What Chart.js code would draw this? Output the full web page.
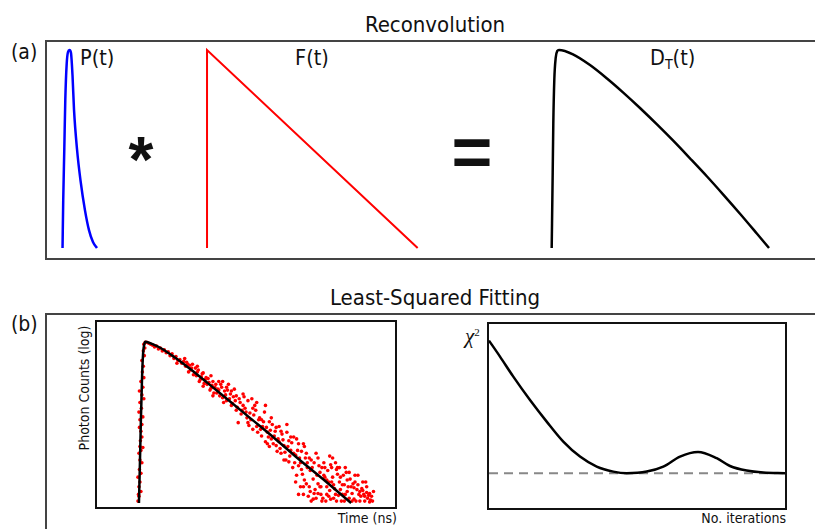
<!DOCTYPE html>
<html>
<head>
<meta charset="utf-8">
<title>Reconvolution and least-squared fitting</title>
<script src="https://cdn.jsdelivr.net/npm/chart.js@4.4.1/dist/chart.umd.min.js"></script>
<style>
  html, body { margin: 0; padding: 0; background: #fff; }
  body {
    width: 815px; height: 529px; position: relative; overflow: hidden;
    font-family: "DejaVu Sans Condensed", "DejaVu Sans", sans-serif; color: #111;
  }
  .txt { position: absolute; white-space: nowrap; line-height: 1; }
  .frame { position: absolute; box-sizing: border-box; }
  canvas { position: absolute; }
</style>
</head>
<body>

<!-- outer panel frames, both run off the right edge -->
<div class="frame" style="left:45px;top:40px;width:790px;height:220px;border:2px solid #444;"></div>
<div class="frame" style="left:45px;top:313px;width:790px;height:260px;border:2px solid #444;"></div>

<div class="txt" style="left:435px;top:14px;font-size:22px;transform:translateX(-50%);">Reconvolution</div>
<div class="txt" style="left:11px;top:42px;font-size:21px;">(a)</div>
<div class="txt" style="left:80px;top:47px;font-size:21.5px;">P(t)</div>
<div class="txt" style="left:295px;top:47px;font-size:21.5px;">F(t)</div>
<div class="txt" style="left:650px;top:47px;font-size:21.5px;">D<sub style="font-size:14px;vertical-align:-4px;">T</sub>(t)</div>
<div class="txt" style="left:141px;top:147px;font-family:'Liberation Sans';font-weight:bold;font-size:64px;transform:translate(-50%,-30%);">*</div>
<div class="txt" style="left:472px;top:152px;font-family:'Liberation Sans';font-weight:bold;font-size:70px;transform:translate(-50%,-50%);">=</div>

<div class="txt" style="left:435px;top:287px;font-size:22px;transform:translateX(-50%);">Least-Squared Fitting</div>
<div class="txt" style="left:11px;top:314px;font-size:21px;">(b)</div>

<!-- decay fit box -->
<div class="frame" style="left:95px;top:320px;width:302px;height:189px;border:2px solid #111;"></div>
<div class="txt" style="left:84px;top:388px;font-size:14px;transform:translate(-50%,-50%) rotate(-90deg);">Photon Counts (log)</div>
<div class="txt" style="left:397px;top:511px;font-size:14px;transform:translateX(-100%);">Time (ns)</div>

<!-- chi-square box -->
<div class="frame" style="left:487px;top:322px;width:300px;height:188px;border:2px solid #111;"></div>
<div class="txt" style="left:465px;top:326px;font-family:'Liberation Serif';font-style:italic;font-size:21px;">&chi;<sup style="font-size:11px;vertical-align:7px;font-style:normal;">2</sup></div>
<div class="txt" style="left:786px;top:511px;font-size:14px;transform:translateX(-100%);">No. iterations</div>

<canvas id="reconv" width="769" height="217" style="left:46px;top:41px;"></canvas>
<canvas id="fit" width="298" height="185" style="left:97px;top:322px;"></canvas>
<canvas id="chi" width="296" height="184" style="left:489px;top:324px;"></canvas>

<script>
// ---- panel (a): pulse P(t), ideal decay F(t), convolved decay D_T(t) ----
// x: time (arb.), y: normalised intensity
const pulsePoints = [
  [2.15, 0], [2.24, 0.24], [2.38, 0.5], [2.51, 0.75], [2.69, 0.93], [2.86, 0.99],
  [3.06, 1.0], [3.25, 0.985], [3.45, 0.87], [3.64, 0.7], [4.03, 0.5], [4.49, 0.34],
  [5.07, 0.19], [5.59, 0.09], [6.11, 0.03], [6.63, 0]
];
const decayPoints = [[20.94, 0], [20.94, 1], [48.33, 0]];
const convolvedPoints = [
  [65.76, 0], [65.89, 0.38], [65.97, 0.63], [66.1, 0.85], [66.28, 0.96], [66.49, 0.995],
  [66.71, 1.0], [68.53, 0.978], [70.74, 0.924], [72.95, 0.856], [75.03, 0.786],
  [77.24, 0.707], [79.45, 0.624], [81.53, 0.543], [83.74, 0.453], [85.96, 0.361],
  [88.04, 0.271], [90.25, 0.173], [92.46, 0.072], [94.02, 0]
];

// ---- panel (b) left: measured photon counts and fitted curve ----
// x: time (ns), y: ln(counts)
const fitPoints = [
  [3.9, 0], [4.0, 2.1], [4.1, 4.35], [4.22, 6.6], [4.33, 7.85], [4.45, 8.3], [4.57, 8.43],
  [5.3, 8.3], [6.3, 8.05], [7.6, 7.6], [9.3, 6.95], [11.0, 6.25], [12.8, 5.5],
  [15.3, 4.45], [17.8, 3.4], [20.3, 2.3], [22.8, 1.25], [25.7, 0]
];
const photonPoints = [
  [3.8,0.1],[3.85,0.45],[3.9,0.85],[3.8,1.35],[4.0,1.1],[3.95,1.75],[4.1,1.55],[4.0,2.25],
  [4.2,2.1],[3.9,2.6],[4.1,2.75],[4.3,2.9],[4.05,3.25],[4.2,3.45],[4.1,3.75],[3.95,3.95],
  [4.2,4.1],[4.0,4.35],[4.3,4.5],[3.9,4.75],[4.15,4.95],[4.0,5.25],[4.4,5.45],[4.2,5.65],
  [3.95,5.85],[4.3,6.05],[4.1,6.35],[4.4,6.55],[4.25,6.85],[4.35,7.15],[4.2,7.45],[4.45,7.7],
  [4.35,7.95],[4.5,8.1],[4.4,8.3],[4.55,8.4],[4.7,8.4],[3.9,0.35],[4.1,0.6],[4.0,2.95],
  [4.9,8.35],[5.1,8.3],[5.3,8.25],[5.5,8.15],[5.7,8.2],[5.9,8.05],[6.1,8.1],[6.3,7.95],
  [6.5,8.0],[6.7,7.85],[6.9,7.9],[7.1,7.7],[7.3,7.8],[7.5,7.55],[7.7,7.65],[7.9,7.45],
  [8.1,7.5],[8.3,7.3],[7.8,7.3],[8.5,7.4],[8.7,7.15],[8.9,7.25],[9.1,7.2],[9.3,7.05],
  [9.0,6.85],[9.5,6.7],[9.7,7.05],[9.9,6.85],[10.1,6.35],[10.3,6.6],[10.5,6.1],[10.7,6.45],
  [10.9,6.2],[11.1,6.3],[11.3,6.0],[11.5,6.35],[11.7,6.05],[11.9,5.75],[12.1,6.35],[12.3,6.2],
  [12.5,5.5],[12.7,5.85],[12.9,5.35],[13.1,6.2],[13.3,5.7],[13.5,5.2],[13.7,5.95],[13.9,5.6],
  [14.1,4.2],[14.3,5.25],[14.5,4.85],[14.7,5.55],[14.8,4.95],[15.0,4.45],[15.2,4.05],[15.3,4.7],
  [15.5,5.45],[15.6,3.85],[15.8,5.1],[16.0,4.0],[16.2,4.35],[16.4,3.85],[16.6,4.0],[16.8,4.75],
  [16.9,3.2],[17.1,3.7],[17.3,4.25],[17.3,2.95],[17.5,3.35],[17.6,4.1],[17.8,3.5],[18.0,3.0],
  [18.1,2.7],[18.3,4.0],[18.3,3.2],[18.5,2.6],[18.6,3.6],[18.8,3.0],[19.0,2.25],[19.1,3.7],
  [19.3,3.25],[19.3,2.15],[19.5,2.75],[19.7,1.85],[19.8,3.45],[20.0,2.5],[20.1,1.45],[20.3,3.1],
  [20.3,1.95],[20.5,0.85],[20.6,2.7],[20.7,1.5],[20.8,0.45],[21.0,2.35],[21.1,1.0],[21.2,1.85],
  [21.3,0.35],[21.4,2.35],[21.5,1.7],[21.6,0.1],[21.8,1.25],[21.9,2.1],[22.0,0.7],[22.1,0.25],
  [22.3,2.35],[22.3,1.0],[22.5,1.6],[22.6,0.45],[22.7,1.85],[22.9,2.1],[23.0,1.35],[23.1,0.1],
  [23.2,0.85],[23.3,1.7],[23.4,0.35],[23.5,2.45],[23.6,2.0],[23.7,1.1],[23.8,1.35],[23.9,0.25],
  [24.0,0.75],[24.1,2.1],[24.2,1.75],[24.3,1.5],[24.4,0.4],[24.5,1.1],[24.6,0.7],[24.7,0.1],
  [24.9,1.45],[25.0,0.95],[25.1,1.85],[25.3,1.2],[25.3,0.6],[25.5,0.25],[25.7,0.85],[25.9,1.0],
  [26.0,0.2],[26.1,1.45],[26.3,0.7],[26.5,0.45],[26.6,0.1],[26.8,0.75],[27.0,0.45],[27.2,1.1],
  [27.4,0.25],[27.6,0.05],[27.8,0.35],
  [8.8,7.35],[9.2,6.95],[9.4,7.25],[9.8,6.65],[10.0,6.95],[10.2,6.45],[10.4,6.75],[10.6,6.25],
  [10.8,6.55],[11.2,5.9],[11.4,6.15],[11.6,5.75],[11.8,6.2],[12.0,5.95],[12.2,5.6],[12.4,6.05],
  [12.6,5.25],[12.8,5.65],[13.0,5.9],[13.2,5.45],[13.4,5.1],[13.6,5.55],[13.8,5.35],[14.0,5.0],
  [14.2,5.45],[14.4,4.65],[14.6,5.1],[14.9,4.75],[15.1,5.35],[15.4,4.35],[15.7,4.6],[15.9,4.85],
  [16.1,3.7],[16.3,4.45],[16.5,3.5],[16.7,4.25],[17.0,3.95],[17.2,3.45],[17.4,3.8],[17.7,3.1],
  [17.9,3.75],[18.2,3.35],[18.4,2.85],[18.7,3.3],[18.9,2.65],[19.2,2.95],[19.4,2.45],[19.6,3.15],
  [19.9,2.1],[20.2,2.75],[20.4,2.35],[20.6,1.75],[20.9,2.95],[20.9,1.2],[21.2,2.1],[21.4,0.85],
  [21.7,1.85],[21.9,0.5],[22.2,1.45],[22.4,1.95],[22.6,0.85],[22.8,0.25],[23.0,1.85],[23.2,1.2],
  [23.5,0.65],[23.7,1.85],[23.9,0.95],[24.1,0.45],[24.3,1.85],[24.6,1.35],[24.8,0.45],[25.0,0.1],
  [25.2,1.6],[25.4,0.85],[25.6,1.25],[25.8,0.5],[26.0,0.8],[26.2,0.1],[26.4,0.95],[26.7,0.35],
  [26.9,0.65],[27.1,0.1],[27.3,0.55],[27.5,0.4],[27.7,0.15],
  [13.4,5.85],[13.9,4.85],[14.6,5.7],[15.1,4.2],[15.6,4.95],[16.0,5.25],[16.5,4.35],[16.9,5.1],
  [17.1,3.1],[17.5,4.45],[18.0,3.95],[18.5,3.75],[18.8,2.25],[19.1,4.1],[19.5,3.45],[19.8,2.6],
  [20.1,3.35],[20.5,2.1],[20.8,3.1],[21.1,2.6],[21.6,2.25],[22.1,2.6],[22.5,0.85],[22.9,1.45],
  [23.4,1.1],[23.8,2.35],[24.2,0.1],[24.5,1.85],[24.8,0.95],[25.1,0.45],[25.5,1.6],[25.8,0.1],
  [26.1,1.1],[26.4,1.45],[26.6,0.6],[26.9,1.1],[27.1,0.35],[27.3,0.85],[27.6,0.5],[27.9,0.1],
  [28.0,0.6],[21.5,0.6],[21.8,0.2],[22.3,0.5],[22.7,0.1],[23.2,0.45],[23.6,0.2],[20.8,0.85],
  [20.3,0.45],[20.0,1.1],[10.5,6.8],[11.0,6.5],[11.5,5.6],[12.1,5.9],[12.5,6.35],[12.9,6.05],
  [11.3,6.65],[9.9,7.15],[8.6,7.55]
];

// ---- panel (b) right: chi-square against iteration ----
const chiPoints = [
  [0, 8.37], [1.1, 7.57], [2.43, 6.57], [4.1, 5.4], [5.77, 4.32], [7.43, 3.32], [9.1, 2.57],
  [10.77, 2.07], [12.43, 1.82], [13.77, 1.74], [15.77, 1.82], [17.43, 2.07], [19.1, 2.57],
  [20.9, 2.8], [22.77, 2.49], [24.1, 2.1], [25.77, 1.87], [27.43, 1.77], [29.6, 1.74]
];
const chiMinimum = 1.74;
const iterationRange = [0, 29.6];

function toXY(pairs) {
  return pairs.map(function (p) { return { x: p[0], y: p[1] }; });
}

function curve(pairs, color, width, smooth) {
  return {
    data: toXY(pairs),
    showLine: true,
    borderColor: color,
    borderWidth: width,
    pointRadius: 0,
    fill: false,
    clip: false,
    borderJoinStyle: 'miter',
    cubicInterpolationMode: smooth ? 'monotone' : 'default'
  };
}

function bareChart(id, datasets, xMax, yMax, padding) {
  return new Chart(document.getElementById(id), {
    type: 'scatter',
    data: { datasets: datasets },
    options: {
      responsive: false,
      animation: false,
      events: [],
      layout: { padding: padding || 0 },
      plugins: { legend: { display: false }, tooltip: { enabled: false } },
      scales: {
        x: { type: 'linear', display: false, min: 0, max: xMax },
        y: { type: 'linear', display: false, min: 0, max: yMax }
      }
    }
  });
}

bareChart('reconv', [
  curve(pulsePoints, '#0000ff', 2.5, true),
  curve(decayPoints, '#ff0000', 2, false),
  curve(convolvedPoints, '#000000', 2.5, true)
], 100, 1, { top: 9, bottom: 10 });

bareChart('fit', [
  curve(fitPoints, '#000000', 2.5, true),
  {
    data: toXY(photonPoints),
    pointRadius: 1.8,
    pointBackgroundColor: '#ff0000',
    pointBorderWidth: 0,
    clip: false
  }
], 29.8, 9.25);

bareChart('chi', [
  curve(chiPoints, '#000000', 2.5, true),
  Object.assign(curve([[iterationRange[0], chiMinimum], [iterationRange[1], chiMinimum]], '#888888', 2, false),
    { borderDash: [9, 6] })
], 29.6, 9.2);
</script>
</body>
</html>
